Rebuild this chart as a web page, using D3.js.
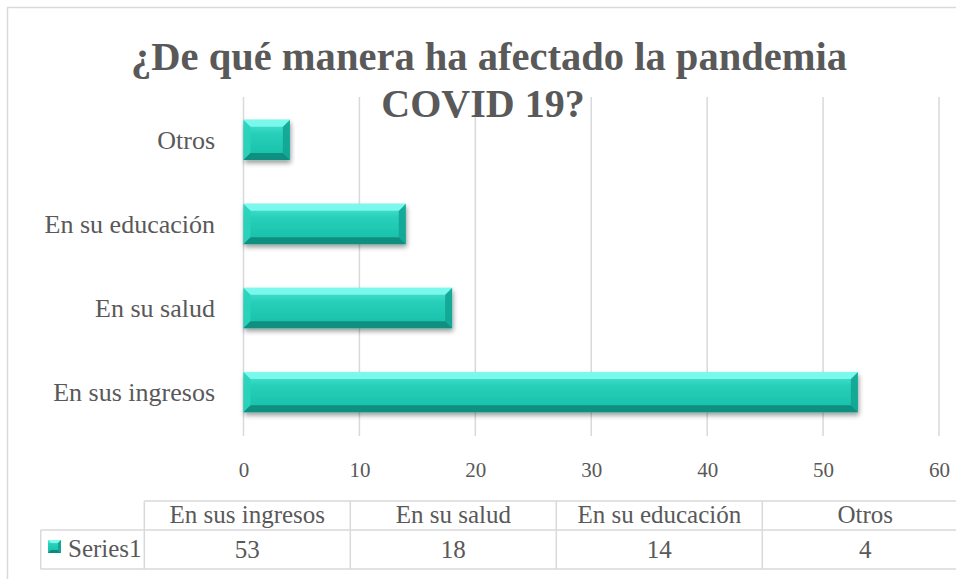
<!DOCTYPE html>
<html>
<head>
<meta charset="utf-8">
<script src="https://cdn.jsdelivr.net/npm/d3@7"></script>
<style>
  html, body { margin: 0; padding: 0; background: #fff; }
  svg { display: block; font-family: "Liberation Serif", "Times New Roman", serif; }
</style>
</head>
<body>
<script>
const categories = ["En sus ingresos", "En su salud", "En su educación", "Otros"];
const seriesName = "Series1";
const values = [53, 18, 14, 4];
const xTicks = [0, 10, 20, 30, 40, 50, 60];
const titleLines = ["¿De qué manera ha afectado la pandemia", "COVID 19?"];

const W = 956, H = 579;
const svg = d3.select("body").append("svg").attr("width", W).attr("height", H);
const defs = svg.append("defs");

const face = defs.append("linearGradient").attr("id", "face").attr("x1", 0).attr("y1", 0).attr("x2", 0).attr("y2", 1);
face.append("stop").attr("offset", "0%").attr("stop-color", "#4fe6d6");
face.append("stop").attr("offset", "35%").attr("stop-color", "#27cfb9");
face.append("stop").attr("offset", "100%").attr("stop-color", "#16bea7");

const sh = defs.append("filter").attr("id", "shadow").attr("x", "-5%").attr("y", "-30%").attr("width", "115%").attr("height", "180%");
sh.append("feDropShadow").attr("dx", 1).attr("dy", 3).attr("stdDeviation", 2.5).attr("flood-color", "#000").attr("flood-opacity", 0.4);

// outer border
svg.append("rect").attr("x", 7.5).attr("y", 7.5).attr("width", 980).attr("height", 620)
  .attr("fill", "#fff").attr("stroke", "#d9d9d9").attr("stroke-width", 1.5);

const x = d3.scaleLinear().domain([0, 60]).range([243.5, 939]);
const y = d3.scaleBand().domain(categories.slice().reverse()).range([97, 435]).paddingInner(0.52).paddingOuter(0.27);

// gridlines
svg.append("g").selectAll("line").data(xTicks).join("line")
  .attr("x1", d => x(d)).attr("x2", d => x(d)).attr("y1", 97).attr("y2", 436)
  .attr("stroke", "#d9d9d9").attr("stroke-width", 1.5);

// x axis labels
const xAxis = d3.axisBottom(x).tickValues(xTicks).tickSize(0).tickPadding(0);
const gx = svg.append("g").attr("transform", "translate(0,462)").call(xAxis);
gx.select(".domain").remove();
gx.selectAll("text").attr("font-size", 21).attr("fill", "#595959")
  .attr("font-family", "Liberation Serif, serif").attr("dy", "0.71em");

// y axis labels
const yAxis = d3.axisLeft(y).tickSize(0).tickPadding(0);
const gy = svg.append("g").attr("transform", "translate(215,0)").call(yAxis);
gy.select(".domain").remove();
gy.selectAll("text").attr("font-size", 26).attr("fill", "#595959")
  .attr("font-family", "Liberation Serif, serif").attr("dy", "0.34em");

// bars with bevel
const data = categories.map((c, i) => ({ c, v: values[i] }));
const bars = svg.append("g").selectAll("g").data(data).join("g");
bars.append("rect")
  .attr("x", x(0)).attr("y", d => y(d.c))
  .attr("width", d => x(d.v) - x(0)).attr("height", y.bandwidth())
  .attr("fill", "url(#face)").attr("filter", "url(#shadow)");
const b = 7;
function bevel(d, side) {
  const x0 = x(0), x1 = x(d.v), y0 = y(d.c), y1 = y0 + y.bandwidth();
  const bb = Math.min(b, (x1 - x0) / 2);
  if (side === "top") return [[x0, y0], [x1, y0], [x1 - bb, y0 + bb], [x0 + bb, y0 + bb]];
  if (side === "bottom") return [[x0, y1], [x1, y1], [x1 - bb, y1 - bb], [x0 + bb, y1 - bb]];
  if (side === "left") return [[x0, y0], [x0 + bb, y0 + bb], [x0 + bb, y1 - bb], [x0, y1]];
  return [[x1, y0], [x1 - bb, y0 + bb], [x1 - bb, y1 - bb], [x1, y1]];
}
const bevelFill = { top: "#7ffbee", bottom: "#0e8a7a", left: "#2bd3bd", right: "#12a592" };
["left", "right", "top", "bottom"].forEach(side => {
  bars.append("polygon")
    .attr("points", d => bevel(d, side).map(p => p.join(",")).join(" "))
    .attr("fill", bevelFill[side]).attr("opacity", 0.9);
});

// title
const title = svg.append("g").attr("fill", "#595959").attr("font-weight", "bold").attr("font-size", 40)
  .attr("text-anchor", "middle");
title.append("text").attr("x", 489).attr("y", 70).attr("textLength", 716).attr("lengthAdjust", "spacingAndGlyphs").text(titleLines[0]);
title.append("text").attr("x", 483).attr("y", 117).text(titleLines[1]);

// data table
const colX = d3.scaleBand().domain(categories).range([144.3, 968.3]);
const tbl = svg.append("g");
const lineC = "#d9d9d9";
const yTop = 501, yMid = 530, yBot = 569;
tbl.append("line").attr("x1", 144.3).attr("x2", 968).attr("y1", yTop).attr("y2", yTop).attr("stroke", lineC).attr("stroke-width", 1.5);
tbl.append("line").attr("x1", 40.7).attr("x2", 968).attr("y1", yMid).attr("y2", yMid).attr("stroke", lineC).attr("stroke-width", 1.5);
tbl.append("line").attr("x1", 40.7).attr("x2", 968).attr("y1", yBot).attr("y2", yBot).attr("stroke", lineC).attr("stroke-width", 1.5);
tbl.append("line").attr("x1", 40.7).attr("x2", 40.7).attr("y1", yMid).attr("y2", yBot).attr("stroke", lineC).attr("stroke-width", 1.5);
tbl.selectAll(".vl").data(categories).join("line").attr("class", "vl")
  .attr("x1", d => colX(d)).attr("x2", d => colX(d)).attr("y1", yTop).attr("y2", yBot)
  .attr("stroke", lineC).attr("stroke-width", 1.5);
tbl.selectAll(".hd").data(categories).join("text").attr("class", "hd")
  .attr("x", d => colX(d) + colX.bandwidth() / 2).attr("y", 523)
  .attr("text-anchor", "middle").attr("font-size", 25).attr("fill", "#595959").text(d => d);
tbl.selectAll(".vv").data(data).join("text").attr("class", "vv")
  .attr("x", d => colX(d.c) + colX.bandwidth() / 2).attr("y", 558)
  .attr("text-anchor", "middle").attr("font-size", 25).attr("fill", "#595959").text(d => d.v);

// legend key + series name
const kx = 48, ky = 540, ks = 13, kb = 3;
tbl.append("rect").attr("x", kx).attr("y", ky).attr("width", ks).attr("height", ks).attr("fill", "url(#face)");
tbl.append("polygon").attr("points", [[kx, ky], [kx + ks, ky], [kx + ks - kb, ky + kb], [kx + kb, ky + kb]].map(p => p.join(",")).join(" ")).attr("fill", "#7ffbee");
tbl.append("polygon").attr("points", [[kx, ky + ks], [kx + ks, ky + ks], [kx + ks - kb, ky + ks - kb], [kx + kb, ky + ks - kb]].map(p => p.join(",")).join(" ")).attr("fill", "#0e8a7a");
tbl.append("polygon").attr("points", [[kx + ks, ky], [kx + ks - kb, ky + kb], [kx + ks - kb, ky + ks - kb], [kx + ks, ky + ks]].map(p => p.join(",")).join(" ")).attr("fill", "#12a592");
tbl.append("text").attr("x", 68).attr("y", 557).attr("font-size", 25).attr("fill", "#595959").text(seriesName);
</script>
</body>
</html>
